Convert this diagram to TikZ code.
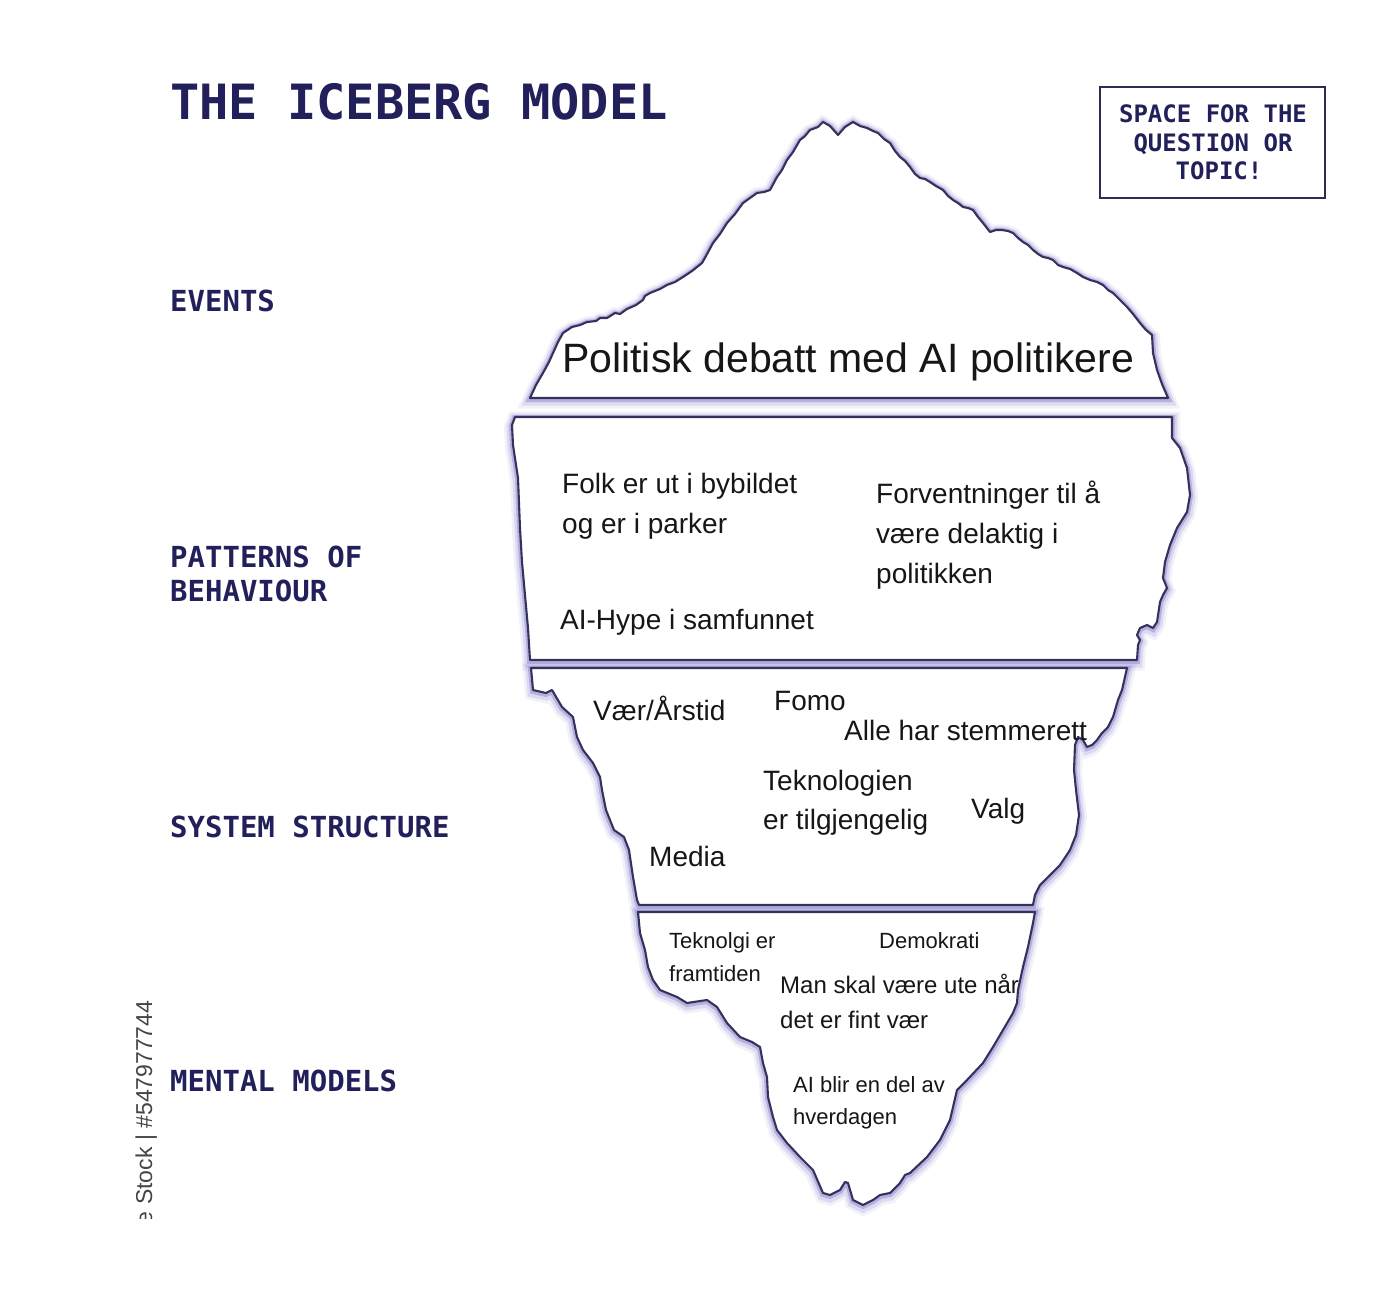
\documentclass[tikz,border=0pt]{standalone}
\usepackage{fontspec}
\setmainfont{Liberation Sans}
\newfontfamily\monof{DejaVu Sans Mono}
\definecolor{navy}{HTML}{22205A}
\definecolor{boxc}{HTML}{2E2C55}
\definecolor{edge}{HTML}{34325A}
\definecolor{glow}{HTML}{857FCC}
\definecolor{ink}{HTML}{161616}
\definecolor{wm}{HTML}{444444}
\tikzset{
  berg/.style={fill=white, draw=edge, line width=2.1pt, line join=round,
    preaction={draw=glow, line width=16pt, draw opacity=0.10, transform canvas={yshift=-2.5pt}},
    preaction={draw=glow, line width=11pt, draw opacity=0.20, transform canvas={yshift=-2pt}},
    preaction={draw=glow, line width=6pt, draw opacity=0.45, transform canvas={yshift=-1pt}}},
  lbl/.style={anchor=base west, inner sep=0pt, text=navy, font=\monof\bfseries\fontsize{29}{29}\selectfont},
  boxtxt/.style={anchor=base, inner sep=0pt, text=navy, font=\monof\bfseries\fontsize{24}{24}\selectfont},
  txt/.style={anchor=base west, inner sep=0pt, text=ink, font=\fontsize{28}{28}\selectfont},
  smalltxt/.style={anchor=base west, inner sep=0pt, text=ink, font=\fontsize{22}{22}\selectfont},
}
\begin{document}
\begin{tikzpicture}[x=1pt, y=-1pt]
\useasboundingbox[fill=white] (0,0) rectangle (1398,1300);

% watermark id
\begin{scope}
\clip (0,0) rectangle (1398,1218);
\node[rotate=90, anchor=base west, inner sep=0pt, text=wm, font=\fontsize{23}{23}\selectfont] (wmark) at (152,1205) {\llap{Adobe }Stock | \#547977744};
\end{scope}

% title and box
\node[anchor=base west, inner sep=0pt, text=navy, font=\monof\bfseries\fontsize{48.6}{48.6}\selectfont] (title) at (170,120) {THE ICEBERG MODEL};
\draw[boxc, line width=2.2pt] (1100,87) rectangle (1325,198);
\node[boxtxt] (q1) at (1213,123) {SPACE FOR THE};
\node[boxtxt] (q2) at (1213,152) {QUESTION OR};
\node[boxtxt] (q3) at (1219,180) {TOPIC!};

% level labels
\node[lbl] (lev1) at (170,312) {EVENTS};
\node[lbl] (lev2a) at (170,567) {PATTERNS OF};
\node[lbl] (lev2b) at (170,601) {BEHAVIOUR};
\node[lbl] (lev3) at (170,837) {SYSTEM STRUCTURE};
\node[lbl] (lev4) at (170,1091) {MENTAL MODELS};

% section 1: tip
\path[berg] (530,398) -- (536,385) -- (543,373) -- (549,362) -- (553,353) -- (558,342) -- (563,333) -- (572,327) -- (580,325) -- (587,322) -- (596,321) -- (600,318) -- (607,318) -- (615,313) -- (620,314) -- (627,309) -- (636,305) -- (643,300) -- (645,296) -- (650,293) -- (660,289) -- (667,285) -- (675,282) -- (683,277) -- (692,271) -- (702,263) -- (706,256) -- (713,243) -- (720,234) -- (727,223) -- (735,214) -- (743,203) -- (750,198) -- (757,193) -- (764,192) -- (770,190) -- (777,177) -- (782,170) -- (787,160) -- (793,152) -- (800,140) -- (805,136) -- (810,130) -- (818,127) -- (823,122) -- (830,126) -- (838,135) -- (845,127) -- (853,122) -- (860,126) -- (867,128) -- (873,131) -- (878,133) -- (884,139) -- (890,143) -- (895,151) -- (900,157) -- (905,161) -- (910,167) -- (915,174) -- (920,178) -- (925,179) -- (930,182) -- (936,186) -- (943,190) -- (948,196) -- (953,200) -- (958,203) -- (963,207) -- (968,208) -- (973,210) -- (978,217) -- (983,223) -- (990,232) -- (996,230) -- (1002,230) -- (1008,231) -- (1013,233) -- (1018,238) -- (1023,242) -- (1028,245) -- (1033,250) -- (1038,254) -- (1043,257) -- (1048,258) -- (1053,260) -- (1058,265) -- (1063,267) -- (1070,269) -- (1077,273) -- (1083,277) -- (1090,280) -- (1097,282) -- (1103,285) -- (1108,290) -- (1113,293) -- (1120,300) -- (1127,307) -- (1133,314) -- (1140,323) -- (1146,330) -- (1152,335) -- (1153,353) -- (1157,370) -- (1162,384) -- (1168,398) -- cycle;

% section 2
\path[berg] (515,417) -- (1172,417) -- (1172,438) -- (1180,448) -- (1187,468) -- (1190,495) -- (1187,512) -- (1177,528) -- (1170,545) -- (1165,562) -- (1163,578) -- (1167,588) -- (1163,595) -- (1160,602) -- (1157,622) -- (1153,628) -- (1147,625) -- (1140,628) -- (1137,635) -- (1140,640) -- (1138,645) -- (1137,660) -- (530,660) -- (528,628) -- (525,595) -- (522,562) -- (520,528) -- (518,478) -- (513,445) -- (512,425) -- cycle;

% section 3
\path[berg] (531,668) -- (1127,668) -- (1122,690) -- (1118,700) -- (1113,717) -- (1108,727) -- (1102,733) -- (1097,740) -- (1092,745) -- (1087,747) -- (1083,740) -- (1078,737) -- (1075,745) -- (1074,770) -- (1076,790) -- (1079,815) -- (1076,835) -- (1070,850) -- (1060,865) -- (1050,875) -- (1040,885) -- (1035,895) -- (1033,905) -- (639,905) -- (637,900) -- (633,877) -- (629,850) -- (624,837) -- (614,830) -- (606,810) -- (602,790) -- (600,777) -- (593,763) -- (583,750) -- (577,737) -- (573,717) -- (562,707) -- (552,690) -- (546,693) -- (533,690) -- cycle;

% section 4
\path[berg] (638,912) -- (1035,912) -- (1033,923) -- (1028,947) -- (1023,967) -- (1018,990) -- (1017,1003) -- (1013,1013) -- (1003,1030) -- (993,1047) -- (983,1063) -- (967,1080) -- (957,1090) -- (950,1120) -- (940,1140) -- (927,1157) -- (910,1173) -- (905,1175) -- (900,1183) -- (890,1193) -- (880,1195) -- (873,1200) -- (863,1205) -- (853,1200) -- (848,1183) -- (845,1182) -- (840,1190) -- (830,1195) -- (823,1193) -- (813,1170) -- (800,1157) -- (787,1143) -- (777,1130) -- (773,1117) -- (768,1097) -- (767,1077) -- (763,1063) -- (760,1047) -- (752,1042) -- (740,1037) -- (727,1023) -- (717,1007) -- (707,1000) -- (687,1003) -- (677,997) -- (660,990) -- (653,980) -- (648,967) -- (645,950) -- (640,933) -- cycle;

% texts
\node[anchor=base west, inner sep=0pt, text=ink, font=\fontsize{41}{41}\selectfont] (ev) at (562,372) {Politisk debatt med AI politikere};

\node[txt] (p1a) at (562,493) {Folk er ut i bybildet};
\node[txt] (p1b) at (562,533) {og er i parker};
\node[txt] (p2a) at (876,503) {Forventninger til å};
\node[txt] (p2b) at (876,543) {være delaktig i};
\node[txt] (p2c) at (876,583) {politikken};
\node[txt] (p3) at (560,629) {AI-Hype i samfunnet};

\node[txt] (s1) at (593,720) {Vær/Årstid};
\node[txt] (s2) at (774,710) {Fomo};
\node[txt] (s3) at (844,740) {Alle har stemmerett};
\node[txt] (s4a) at (763,790) {Teknologien};
\node[txt] (s4b) at (763,829) {er tilgjengelig};
\node[txt] (s5) at (971,818) {Valg};
\node[txt] (s6) at (649,866) {Media};

\node[smalltxt] (m1a) at (669,948) {Teknolgi er};
\node[smalltxt] (m1b) at (669,981) {framtiden};
\node[smalltxt] (m2) at (879,948) {Demokrati};
\node[anchor=base west, inner sep=0pt, text=ink, font=\fontsize{24}{24}\selectfont] (m3a) at (780,993) {Man skal være ute når};
\node[anchor=base west, inner sep=0pt, text=ink, font=\fontsize{24}{24}\selectfont] (m3b) at (780,1028) {det er fint vær};
\node[smalltxt] (m4a) at (793,1092) {AI blir en del av};
\node[smalltxt] (m4b) at (793,1124) {hverdagen};
\end{tikzpicture}
\end{document}
